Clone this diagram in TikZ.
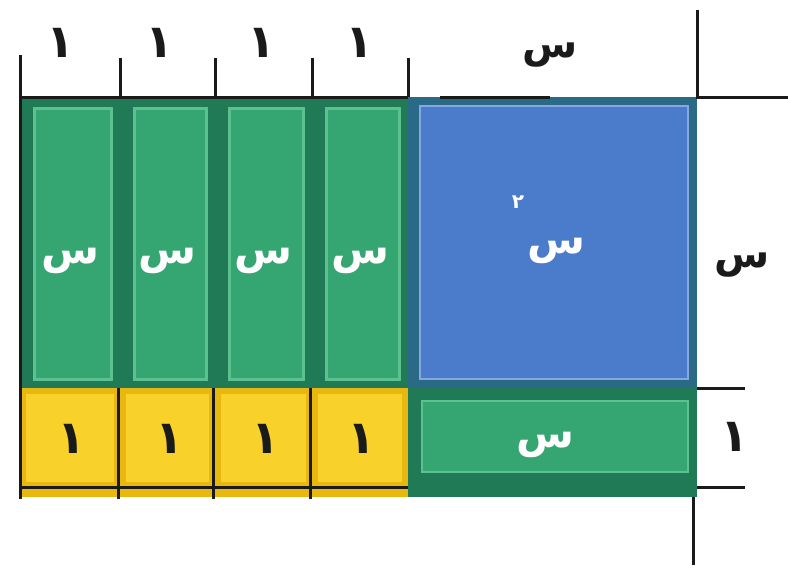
\documentclass[tikz,border=0pt]{standalone}
\usepackage{fontspec}
\newfontfamily\arabicfont[Script=Arabic]{DejaVu Sans}
\TeXXeTstate=1
\definecolor{gdark}{HTML}{1F7A55}
\definecolor{glight}{HTML}{35A672}
\definecolor{gedge}{HTML}{5CC08F}
\definecolor{bdark}{HTML}{2A6A86}
\definecolor{blight}{HTML}{4A7CCB}
\definecolor{bedge}{HTML}{86A8E2}
\definecolor{ydark}{HTML}{E9B80E}
\definecolor{ylight}{HTML}{F8D12A}
\definecolor{ink}{HTML}{1A1A1A}
\begin{document}
\begin{tikzpicture}[x=1pt,y=-1pt,
  blabel/.style={font=\arabicfont\bfseries\fontsize{40}{40}\selectfont, text=ink, inner sep=0pt},
  dlabel/.style={font=\arabicfont\bfseries\fontsize{46}{46}\selectfont, text=ink, inner sep=0pt},
  wlabel/.style={font=\arabicfont\bfseries\fontsize{42}{42}\selectfont, text=white, inner sep=0pt},
  tick/.style={draw=ink, line width=3pt}]
\useasboundingbox (0,0) rectangle (788,573);
% green tall tiles
\foreach \a/\b/\n in {20/120/1,120/215/2,215/312/3,312/408/4}{
  \fill[gdark] (\a,97) rectangle (\b,388);
  \fill[glight, draw=gedge, line width=3pt] (\a+14,108) rectangle (\b-9,379);
  \node[wlabel] (gx\n) at ({(\a+\b)/2},261) {\beginR س\endR};
}
% yellow unit tiles
\foreach \a/\b/\n in {20/120/1,120/215/2,215/312/3,312/408/4}{
  \fill[ydark] (\a,388) rectangle (\b,497);
  \fill[ylight] (\a+6,394) rectangle (\b-6,482);
  \node[dlabel] (y\n) at ({(\a+\b)/2+2},439) {١};
}
% blue square tile
\fill[bdark] (408,97) rectangle (697,388);
\fill[blight, draw=bedge, line width=2pt] (420,106) rectangle (688,379);
\node[wlabel] (sq) at (556,251) {\beginR س\endR};
\node[font=\arabicfont\bfseries\fontsize{20}{20}\selectfont, text=white, inner sep=0pt] (sq2) at (518,202) {٢};
% bottom x tile
\fill[gdark] (408,388) rectangle (697,497);
\fill[glight, draw=gedge, line width=2pt] (422,401) rectangle (688,472);
\node[wlabel] (bx) at (545,445) {\beginR س\endR};
% black lines on the unit row
\foreach \x in {20,118,213,310}{ \draw[tick] (\x,388) -- (\x,499); }
\draw[tick] (20,487) -- (408,487);
% left edge and top border
\draw[tick] (20,55) -- (20,499);
\draw[tick] (20,97) -- (408,97);
\draw[tick] (440,97) -- (550,97);
\foreach \x in {120,215,312,408}{ \draw[tick] (\x,58) -- (\x,97); }
% right-hand guides
\draw[tick] (697,10) -- (697,97) -- (788,97);
\draw[tick] (697,388) -- (745,388);
\draw[tick] (697,487) -- (745,487);
\draw[tick] (693,497) -- (693,565);
% dimension labels
\foreach \x/\n in {61/1,160/2,262/3,360/4}{ \node[dlabel] (t\n) at (\x,43) {١}; }
\node[blabel] (tx) at (550,55) {\beginR س\endR};
\node[blabel] (rx) at (742,265) {\beginR س\endR};
\node[dlabel] (r1) at (735,437) {١};
\end{tikzpicture}
\end{document}
